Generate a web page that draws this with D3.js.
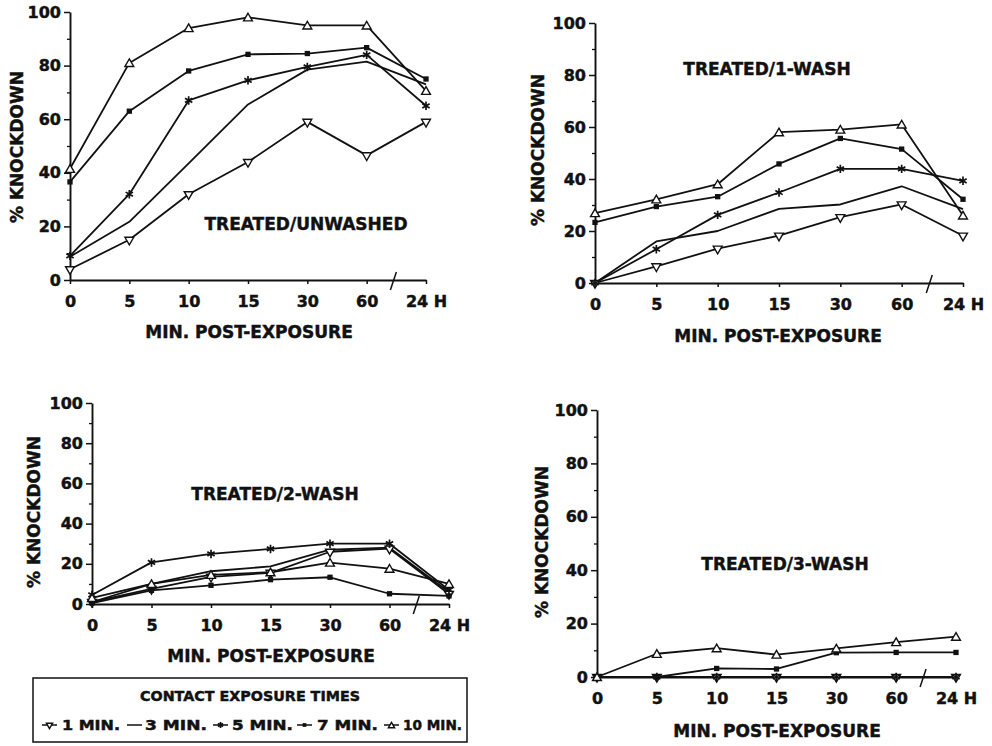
<!DOCTYPE html>
<html>
<head>
<meta charset="utf-8">
<script src="https://cdn.jsdelivr.net/npm/d3@7"></script>
<style>
body { margin: 0; background: #fff; }
svg { display: block; }
text { font-family: "DejaVu Sans", sans-serif; font-weight: bold; fill: #111; stroke: #111; stroke-width: 0.45px; }
</style>
</head>
<body>
<svg id="chart" width="992" height="746"></svg>
<script>
var times = ['0', '5', '10', '15', '30', '60', '24 H'];
var series = ['1 MIN.', '3 MIN.', '5 MIN.', '7 MIN.', '10 MIN.'];
var yMajor = [0, 20, 40, 60, 80, 100];
var yMinor = [10, 30, 50, 70, 90];

// one row per contact time, same order as `series`
var unwashed = [
	[4, 15, 32, 44, 59, 46.5, 59],
	[8.7, 21.7, 43.5, 65.5, 78.5, 81.5, 73],
	[9, 32, 67, 74.5, 79.5, 84, 65],
	[36.6, 63, 78, 84.2, 84.5, 86.7, 75],
	[41.5, 81, 94, 98, 95, 95, 70.6]
];
var wash1 = [
	[0, 6.4, 13.2, 18.2, 25.3, 30.2, 18.2],
	[0, 16, 20, 28.5, 30.2, 37.2, 28.4],
	[0, 13, 26.2, 34.8, 43.9, 43.9, 39.3],
	[23.3, 29.4, 33.2, 45.8, 55.6, 51.5, 32.2],
	[26.9, 32.2, 38, 58, 59, 61, 26]
];
var wash2 = [
	[1, 7.5, 13.5, 15.5, 26, 27.5, 5],
	[1, 10, 16.3, 18.7, 27, 28, 6],
	[4.5, 20.7, 24.9, 27.4, 30, 30, 7],
	[0.5, 6.8, 9.3, 12.1, 13.3, 5.1, 4],
	[3, 10, 14.5, 15.8, 20.6, 17.6, 10]
];
var wash3 = [
	[0, 0, 0, 0, 0, 0, 0],
	[0, 0, 0, 0, 0, 0, 0],
	[0, 0, 0, 0, 0, 0, 0],
	[0, 0, 3.2, 3, 9.1, 9.2, 9.2],
	[0, 8.7, 10.8, 8.4, 10.7, 13.1, 15.1]
];

var panels = [
	{ title: 'TREATED/UNWASHED', rows: unwashed, x0: 70, x1: 426, y0: 280, y1: 12,
		tx: 306, ty: 230, ax: 249, ay: 338, lx: 17, ly: 147 },
	{ title: 'TREATED/1-WASH', rows: wash1, x0: 595, x1: 963, y0: 283, y1: 23,
		tx: 767, ty: 75, ax: 778, ay: 342, lx: 538, ly: 150 },
	{ title: 'TREATED/2-WASH', rows: wash2, x0: 92, x1: 449, y0: 604, y1: 403,
		tx: 275, ty: 500, ax: 271, ay: 662, lx: 34, ly: 512 },
	{ title: 'TREATED/3-WASH', rows: wash3, x0: 597, x1: 956, y0: 677, y1: 410,
		tx: 785, ty: 570, ax: 777, ay: 737, lx: 542, ly: 542 }
];

var svg = d3.select('#chart');
var ink = '#111';

// marker per contact time
function drawMarker(g, k, size) {
	var s = size || 1;
	if (k == 0) {
		g.append('path').attr('d', d3.symbol(d3.symbolTriangle, 34 * s)())
			.attr('transform', 'rotate(180)')
			.attr('fill', '#fff').attr('stroke', ink).attr('stroke-width', 1.4);
	} else if (k == 2) {
		g.append('path').attr('d', d3.symbol(d3.symbolAsterisk, 50 * s)())
			.attr('fill', 'none').attr('stroke', ink).attr('stroke-width', 1.7);
	} else if (k == 3) {
		g.append('path').attr('d', d3.symbol(d3.symbolSquare, 28 * s)())
			.attr('fill', ink);
	} else if (k == 4) {
		g.append('path').attr('d', d3.symbol(d3.symbolTriangle, 34 * s)())
			.attr('transform', 'translate(0,1)')
			.attr('fill', '#fff').attr('stroke', ink).attr('stroke-width', 1.4);
	}
}

panels.forEach(function(p) {
	var x = d3.scalePoint().domain(times).range([p.x0, p.x1]);
	var y = d3.scaleLinear().domain([0, 100]).range([p.y0, p.y1]);
	var g = svg.append('g');

	// minor y ticks
	g.append('g')
	.attr('transform', 'translate(' + p.x0 + ',0)')
	.call(d3.axisLeft(y).tickValues(yMinor).tickSize(3).tickFormat(''))
	.call(function(a) { a.select('.domain').remove(); })
	.selectAll('line').attr('stroke', ink).attr('stroke-width', 1.3);

	var ya = g.append('g')
	.attr('transform', 'translate(' + p.x0 + ',0)')
	.call(d3.axisLeft(y).tickValues(yMajor).tickSize(6).tickSizeOuter(0).tickPadding(3))
	.attr('font-size', 16);
	ya.select('.domain').attr('stroke', ink).attr('stroke-width', 1.9);
	ya.selectAll('line').attr('stroke', ink).attr('stroke-width', 1.5);

	var xa = g.append('g')
	.attr('transform', 'translate(0,' + p.y0 + ')')
	.call(d3.axisBottom(x).tickSize(4).tickSizeOuter(0).tickPadding(12))
	.attr('font-size', 16);
	xa.select('.domain').attr('stroke', ink).attr('stroke-width', 1.9);
	xa.selectAll('line').attr('stroke', ink).attr('stroke-width', 1.5);

	// axis break between 60 and 24 H
	var bx = x('60') + (x('24 H') - x('60')) * 0.45;
	g.append('line')
	.attr('x1', bx - 3).attr('y1', p.y0 + 10)
	.attr('x2', bx + 3).attr('y2', p.y0 - 8)
	.attr('stroke', ink).attr('stroke-width', 1.5);

	var line = d3.line()
	.x(function(d, i) { return x(times[i]); })
	.y(function(d) { return y(d); });

	g.selectAll('path.series')
	.data(p.rows)
	.enter()
	.append('path')
	.attr('class', 'series')
	.attr('d', line)
	.attr('fill', 'none')
	.attr('stroke', ink)
	.attr('stroke-width', 1.8)
	.attr('stroke-linejoin', 'round');

	p.rows.forEach(function(row, k) {
		row.forEach(function(v, i) {
			var m = g.append('g').attr('transform', 'translate(' + x(times[i]) + ',' + y(v) + ')');
			drawMarker(m, k);
		});
	});

	g.append('text')
	.attr('x', p.tx).attr('y', p.ty)
	.attr('text-anchor', 'middle')
	.attr('font-size', 17)
	.text(p.title);

	g.append('text')
	.attr('x', p.ax).attr('y', p.ay)
	.attr('text-anchor', 'middle')
	.attr('font-size', 17)
	.text('MIN. POST-EXPOSURE');

	g.append('text')
	.attr('transform', 'translate(' + p.lx + ',' + p.ly + ') rotate(-90)')
	.attr('text-anchor', 'middle')
	.attr('dy', '0.36em')
	.attr('font-size', 17)
	.text('% KNOCKDOWN');
});

// legend
var legend = svg.append('g');
legend.append('rect')
.attr('x', 33).attr('y', 678)
.attr('width', 434).attr('height', 64)
.attr('fill', '#fff').attr('stroke', ink).attr('stroke-width', 1.5);

legend.append('text')
.attr('x', 140).attr('y', 701)
.attr('font-size', 13.5)
.attr('textLength', 220).attr('lengthAdjust', 'spacingAndGlyphs')
.text('CONTACT EXPOSURE TIMES');

var keyX = [42, 127, 213, 297, 384];
var keyText = [62, 145, 232, 317, 403];
var keyLen = [58, 62, 61, 61, 59];

series.forEach(function(name, k) {
	legend.append('line')
	.attr('x1', keyX[k]).attr('x2', keyX[k] + 15)
	.attr('y1', 725).attr('y2', 725)
	.attr('stroke', ink).attr('stroke-width', 1.5);
	var m = legend.append('g').attr('transform', 'translate(' + (keyX[k] + 7.5) + ',725)');
	drawMarker(m, k, 0.5);
	legend.append('text')
	.attr('x', keyText[k]).attr('y', 730)
	.attr('font-size', 13.5)
	.attr('textLength', keyLen[k]).attr('lengthAdjust', 'spacingAndGlyphs')
	.text(name);
});
</script>
</body>
</html>
